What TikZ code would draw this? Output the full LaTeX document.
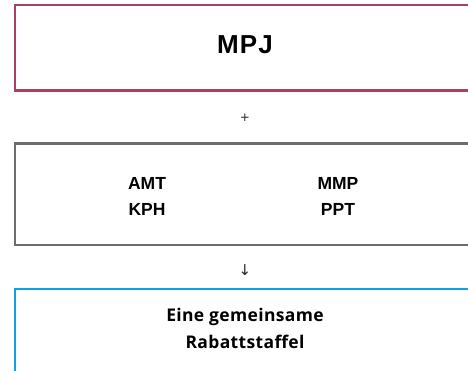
\documentclass[tikz,border=0pt]{standalone}
\usepackage{fontspec}
\setmainfont{Liberation Sans}
\newfontfamily\symfont{DejaVu Sans}
\newfontfamily\rabfont{Open Sans}
\definecolor{boxred}{HTML}{A8405E}
\definecolor{boxgray}{HTML}{6E6C6E}
\definecolor{boxblue}{HTML}{0EA2E0}
\begin{document}
\begin{tikzpicture}[x=1pt,y=1pt,
  frame/.style={line width=2.2pt},
  label/.style={font=\bfseries\fontsize{17.5}{26}\selectfont, text=black, align=center, inner sep=0pt},
  sym/.style={font=\symfont\fontsize{15}{17}\selectfont, text=black!85, inner sep=0pt}]
\useasboundingbox (0,0) rectangle (468,370);
\clip (0,0) rectangle (468,370);
\fill[white] (0,0) rectangle (468,370);
% boxes (y = 370 - pixel y)
\draw[frame, boxred] (15,365) rectangle (490,279.5);
\draw[frame, boxgray] (15,226.5) rectangle (490,125);
\draw[frame, boxblue] (15,81) rectangle (490,-40);
% texts
\node[label, font=\bfseries\fontsize{26}{30}\selectfont\addfontfeature{LetterSpace=4}] (mpj) at (245,325) {MPJ};
\node[sym, font=\symfont\fontsize{12}{14}\selectfont] (plus) at (245,252) {+};
\node[label] (amt) at (147,187) {AMT};
\node[label] (kph) at (147,161) {KPH};
\node[label] (mmp) at (338,187) {MMP};
\node[label] (ppt) at (338,161) {PPT};
\node[sym] (arrow) at (245,100) {↓};
\node[label, font=\rabfont\bfseries\fontsize{17.5}{27.5}\selectfont\addfontfeature{LetterSpace=2}] (rab) at (245,41.5) {Eine gemeinsame\\Rabattstaffel};
\end{tikzpicture}
\end{document}
